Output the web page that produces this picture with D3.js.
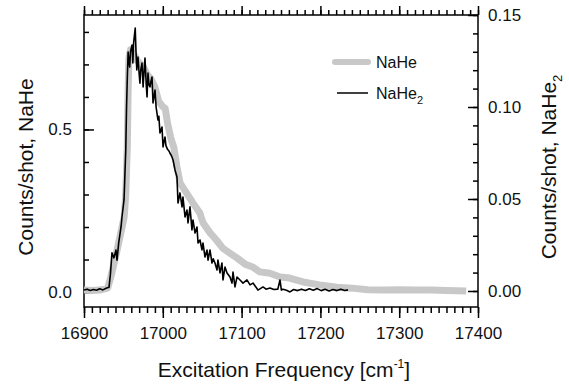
<!DOCTYPE html>
<html>
<head>
<meta charset="utf-8">
<script src="https://cdn.jsdelivr.net/npm/d3@7"></script>
<style>
  body { margin: 0; background: #fff; }
  text { font-family: "Liberation Sans", Arial, sans-serif; fill: #111; }
</style>
</head>
<body>
<div id="chart"></div>
<script>
// NaHe spectrum (left axis, counts/shot)
var naheFreq = [16900, 16910, 16920, 16930, 16934, 16942, 16951, 16953, 16955, 16956, 16957, 16959, 16962,
  16965, 16968, 16972, 16976, 16980, 16985, 16990, 16995, 17000, 17003, 17006, 17010, 17014, 17018, 17022,
  17030, 17038, 17047, 17051, 17060, 17068, 17076, 17085, 17094, 17105, 17114, 17123, 17136, 17149, 17161,
  17178, 17199, 17221, 17240, 17260, 17280, 17300, 17320, 17340, 17360, 17385];
var naheCounts = [0.006, 0.005, 0.006, 0.012, 0.046, 0.129, 0.231, 0.30, 0.45, 0.62, 0.72, 0.745, 0.735,
  0.725, 0.71, 0.70, 0.69, 0.67, 0.655, 0.63, 0.585, 0.57, 0.565, 0.52, 0.475, 0.445, 0.385, 0.335,
  0.305, 0.275, 0.243, 0.213, 0.182, 0.16, 0.135, 0.12, 0.105, 0.085, 0.077, 0.062, 0.058, 0.046, 0.043,
  0.031, 0.022, 0.015, 0.012, 0.007, 0.006, 0.007, 0.006, 0.006, 0.005, 0.003];

// NaHe2 spectrum (right axis, counts/shot)
var nahe2Freq = [16900, 16904, 16908, 16912, 16916, 16920, 16924, 16928, 16931.7, 16933.5, 16935.5, 16938, 16940.6,
  16941.9, 16944, 16947, 16948.2, 16950.8, 16953, 16954, 16955, 16956, 16957, 16958, 16959, 16961, 16962,
  16963, 16965, 16966, 16967, 16968.5, 16970, 16971, 16972, 16973.6, 16975, 16976, 16977.4, 16979, 16980,
  16981.2, 16982.5, 16983.8, 16985, 16986.3, 16987.6, 16989, 16990.1, 16991.5, 16992.6, 16993.9, 16995,
  16996.4, 16999, 17000.3, 17001.5, 17002.8, 17004, 17006, 17008, 17009, 17011, 17013, 17015.5, 17018,
  17019.3, 17021.8, 17024.4, 17025.6, 17028.2, 17030.7, 17032, 17034.5, 17037, 17038.3, 17040.9, 17043.4,
  17044.7, 17047.2, 17049.7, 17051, 17053.5, 17056.1, 17057.4, 17059.9, 17062.4, 17064, 17066.2, 17068.8,
  17070, 17072.6, 17075.1, 17076.4, 17078.9, 17081.5, 17085.3, 17087.8, 17089.1, 17091.6, 17094.2, 17098,
  17101.8, 17106.8, 17110.7, 17114.5, 17120.8, 17127.2, 17131, 17136, 17141, 17146, 17148.7, 17150.5,
  17152.5, 17157, 17161.4, 17166, 17171, 17176, 17181, 17186, 17191, 17196, 17201, 17206, 17211, 17216,
  17221, 17226, 17231, 17235];
var nahe2Counts = [0.0005, 0.0010, 0.0003, 0.0008, 0.0004, 0.0012, 0.0006, 0.0015, 0.0020, 0.0090, 0.0207, 0.0180, 0.0223,
  0.0168, 0.0260, 0.0348, 0.0402, 0.0495, 0.0766, 0.1000, 0.1163, 0.1299, 0.1250, 0.1217, 0.1300, 0.1337, 0.1239,
  0.1350, 0.1429, 0.1300, 0.1201, 0.1272, 0.1180, 0.1130, 0.1200, 0.1239, 0.1109, 0.1180, 0.1266, 0.1120, 0.1054,
  0.1185, 0.1120, 0.1109, 0.1140, 0.1163, 0.1022, 0.1060, 0.1092, 0.1000, 0.0967, 0.0929, 0.0950,
  0.0859, 0.0891, 0.0783, 0.0810, 0.0837, 0.0790, 0.0770, 0.0760, 0.0750, 0.0735, 0.0712, 0.0658, 0.0620,
  0.0478, 0.0533, 0.0457, 0.0511, 0.0402, 0.0440, 0.0370, 0.0457, 0.0332, 0.0386, 0.0315, 0.0348,
  0.0261, 0.0277, 0.0223, 0.0261, 0.0185, 0.0223, 0.0168, 0.0223, 0.0152, 0.0175, 0.0152, 0.0114,
  0.0168, 0.0098, 0.0152, 0.0060, 0.0130, 0.0098, 0.0076, 0.0043, 0.0103, 0.0022, 0.0076, 0.0060,
  0.0043, 0.0060, 0.0033, 0.0043, 0.0005, 0.0022, 0.0010, 0.0016, 0.0008, 0.0010, 0.0060, 0.0005,
  0.0010, 0.0004, -0.0005, 0.0008, 0.0002, 0.0010, 0.0003, 0.0012, 0.0004, 0.0013, 0.0002, 0.0009, 0.0000, 0.0008,
  0.0002, 0.0010, 0.0003, 0.0006];

// tick values
var xTicks = [16900, 17000, 17100, 17200, 17300, 17400];
var leftTicks = [0.0, 0.5];
var rightTicks = [0.00, 0.05, 0.10, 0.15];

var width = 569, height = 388;
var margin = {top: 15, right: 91, bottom: 81, left: 84};

var svg = d3.select("#chart").append("svg")
    .attr("width", width)
    .attr("height", height);

var x = d3.scaleLinear().domain([16900, 17400]).range([margin.left, width - margin.right]);
var yL = d3.scaleLinear().domain([-0.046, 0.852]).range([height - margin.bottom, margin.top]);
var yR = d3.scaleLinear().domain([-0.0087, 0.15]).range([height - margin.bottom, margin.top]);

var minorX = d3.range(16900, 17401, 10);
var minorL = d3.range(0, 0.81, 0.1);
var minorR = d3.range(0, 0.1501, 0.01);

function styleAxis(g) {
  g.select(".domain").remove();
  g.selectAll("line").attr("stroke", "#000").attr("stroke-width", 1.5);
  g.selectAll("text").attr("font-size", 17).attr("fill", "#111")
    .attr("font-family", "Liberation Sans, Arial, sans-serif");
}

var yBot = height - margin.bottom, yTop = margin.top;
var xL = margin.left, xR = width - margin.right;

// bottom axis (outward ticks)
svg.append("g").attr("transform", "translate(0," + yBot + ")")
  .call(d3.axisBottom(x).tickValues(minorX).tickSize(6).tickFormat(""))
  .call(styleAxis);
svg.append("g").attr("transform", "translate(0," + yBot + ")")
  .call(d3.axisBottom(x).tickValues(xTicks).tickSize(11).tickPadding(9).tickFormat(d3.format("d")))
  .call(styleAxis);

// top axis (outward ticks, no labels)
svg.append("g").attr("transform", "translate(0," + yTop + ")")
  .call(d3.axisTop(x).tickValues(minorX).tickSize(5).tickFormat(""))
  .call(styleAxis);
svg.append("g").attr("transform", "translate(0," + yTop + ")")
  .call(d3.axisTop(x).tickValues(xTicks).tickSize(9).tickFormat(""))
  .call(styleAxis);

// left axis (inward ticks)
svg.append("g").attr("transform", "translate(" + xL + ",0)")
  .call(d3.axisLeft(yL).tickValues(minorL).tickSize(-5).tickFormat(""))
  .call(styleAxis);
svg.append("g").attr("transform", "translate(" + xL + ",0)")
  .call(d3.axisLeft(yL).tickValues(leftTicks).tickSize(-10).tickPadding(12).tickFormat(d3.format(".1f")))
  .call(styleAxis);

// right axis (inward ticks)
svg.append("g").attr("transform", "translate(" + xR + ",0)")
  .call(d3.axisRight(yR).tickValues(minorR).tickSize(-5).tickFormat(""))
  .call(styleAxis);
svg.append("g").attr("transform", "translate(" + xR + ",0)")
  .call(d3.axisRight(yR).tickValues(rightTicks).tickSize(-10).tickPadding(10).tickFormat(d3.format(".2f")))
  .call(styleAxis);

// frame
svg.append("rect")
  .attr("x", xL).attr("y", yTop)
  .attr("width", xR - xL).attr("height", yBot - yTop)
  .attr("fill", "none").attr("stroke", "#000").attr("stroke-width", 1.5);

// lines
var lineL = d3.line()
  .x(function(d) { return x(d[0]); })
  .y(function(d) { return yL(d[1]); });
var lineR = d3.line()
  .x(function(d) { return x(d[0]); })
  .y(function(d) { return yR(d[1]); });

svg.append("path")
  .datum(d3.zip(naheFreq, naheCounts))
  .attr("fill", "none")
  .attr("stroke", "#c8c8c8")
  .attr("stroke-width", 7)
  .attr("stroke-linejoin", "round")
  .attr("d", lineL);

svg.append("path")
  .datum(d3.zip(nahe2Freq, nahe2Counts))
  .attr("fill", "none")
  .attr("stroke", "#000")
  .attr("stroke-width", 1.6)
  .attr("stroke-linejoin", "round")
  .attr("d", lineR);

// legend
var leg = svg.append("g");
leg.append("line").attr("x1", 335).attr("x2", 368).attr("y1", 62).attr("y2", 62)
  .attr("stroke", "#c8c8c8").attr("stroke-width", 6).attr("stroke-linecap", "round");
leg.append("text").attr("x", 376).attr("y", 62).attr("dy", "0.35em")
  .attr("font-size", 16).text("NaHe");
leg.append("line").attr("x1", 337).attr("x2", 368).attr("y1", 93).attr("y2", 93)
  .attr("stroke", "#000").attr("stroke-width", 1.5);
var t2 = leg.append("text").attr("x", 376).attr("y", 93).attr("dy", "0.35em")
  .attr("font-size", 16).text("NaHe");
t2.append("tspan").attr("font-size", 11).attr("dy", 5).text("2");

// axis titles
var xt = svg.append("text")
  .attr("x", (xL + xR) / 2 + 3).attr("y", 377)
  .attr("text-anchor", "middle")
  .attr("font-size", 21)
  .text("Excitation Frequency [cm");
xt.append("tspan").attr("font-size", 12).attr("dy", -9).text("-1");
xt.append("tspan").attr("dy", 9).text("]");

svg.append("text")
  .attr("transform", "translate(33,167) rotate(-90)")
  .attr("text-anchor", "middle")
  .attr("font-size", 21)
  .text("Counts/shot, NaHe");

var rt = svg.append("text")
  .attr("transform", "translate(556,167) rotate(-90)")
  .attr("text-anchor", "middle")
  .attr("font-size", 21)
  .text("Counts/shot, NaHe");
rt.append("tspan").attr("font-size", 13).attr("dy", 6).text("2");
</script>
</body>
</html>
